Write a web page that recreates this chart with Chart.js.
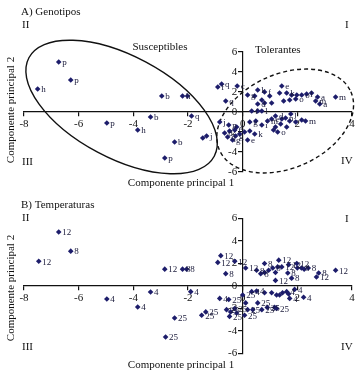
<!DOCTYPE html>
<html><head><meta charset="utf-8">
<script src="https://cdn.jsdelivr.net/npm/chart.js@4.4.0/dist/chart.umd.min.js"></script>
<style>
html,body{margin:0;padding:0;background:#fff;}
#wrap{position:relative;width:359px;height:372px;overflow:hidden;}
canvas{position:absolute;left:0;top:0;}
</style></head><body>
<div id="wrap">
<canvas id="cA" width="359" height="372"></canvas>
<canvas id="cB" width="359" height="372"></canvas>
</div>
<script>
// ---- data ----
const xTicks = [-8, -6, -4, -2, 0, 2, 4];
const yTicks = [-6, -4, -2, 0, 2, 4, 6];

// Panel A: genotypes
const genoX = [-6.73,-6.29,-7.50,-2.96,-2.20,-2.02,-0.91,-0.77,-0.20,-0.62,
  -4.97,-3.37,-3.84,-2.49,-2.85,-1.87,-1.46,-1.32,-0.84,-0.51,
  -0.22,-0.66,-0.48,-0.29,-0.55,-0.26,-0.11,-0.37,0.07,0.26,
  0.44,0.18,0.33,0.55,0.70,0.26,0.48,0.70,0.91,1.06,
  1.20,1.43,1.57,1.76,1.72,1.94,1.39,1.20,1.61,2.16,
  2.30,1.13,1.28,0.18,0.44,0.55,0.80,0.70,0.99,0.55,
  1.43,1.35,1.61,1.79,1.98,2.16,2.34,2.52,1.94,1.72,
  1.50,2.74,2.67,2.82,3.40,1.06,0.80];
const genoY = [5.0,3.2,2.3,1.6,1.6,1.6,2.5,2.8,2.6,1.1,
  -1.1,-0.5,-1.8,-3.0,-4.6,-0.4,-2.6,-2.4,-1.0,-1.3,
  -1.5,-2.1,-1.9,-1.8,-2.5,-2.4,-2.2,-2.8,-2.0,-1.9,
  -2.2,-2.8,0.1,0.1,0.1,-1.0,-0.9,-1.3,-0.9,-0.7,
  -0.4,-0.7,-0.6,-0.2,-0.9,-1.0,-1.2,-1.5,-1.5,-0.8,
  -0.9,-1.8,-2.0,1.7,1.6,2.2,2.0,1.2,1.6,0.8,
  2.6,1.9,1.9,1.7,1.7,1.7,1.8,1.9,1.3,1.2,
  1.1,1.5,1.1,0.8,1.5,0.9,0.9];
const genoLabels = ['p','p','h','b','h','','f','q','c','q',
  'p','b','h','b','p','q','','j','j','n',
  'c','d','','f','q','g','','g','','',
  'k','e','f','','l','g','','i','m','e',
  'd','','n','j','','','','','','',
  'm','','o','g','','k','f','','','d',
  'e','','k','','','o','l','','o','',
  '','a','m','a','m','',''];

// Panel B: temperatures
const tempX = [-6.73,-6.29,-7.46,-2.85,-2.20,-2.05,-0.80,-0.91,-0.29,-0.62,
  0.11,0.51,0.66,0.80,0.80,0.95,1.10,1.20,1.32,1.28,
  1.43,1.65,1.68,1.79,1.20,1.98,2.00,2.15,2.25,2.40,
  2.78,2.70,3.40,-4.97,-3.84,-3.37,-2.49,-2.82,-1.90,-0.84,
  -1.50,-1.35,-0.51,-0.59,-0.44,-0.29,-0.22,-0.48,0.00,0.11,
  0.18,0.37,0.07,0.33,0.51,0.55,0.80,1.06,1.24,1.35,
  1.46,1.61,1.68,1.90,1.72,2.23,1.17,1.24,0.90,0.70];
const tempY = [4.8,3.1,2.2,1.5,1.5,1.5,2.7,2.1,2.2,1.1,
  1.6,1.4,1.1,2.0,1.2,1.4,1.6,1.2,2.3,1.7,
  1.7,1.15,1.9,0.7,0.5,2.0,1.6,1.6,1.5,1.6,
  1.15,0.8,1.4,-1.16,-1.87,-0.53,-2.84,-4.53,-0.5,-1.1,
  -2.6,-2.3,-1.2,-2.1,-2.3,-2.0,-2.4,-2.7,-0.8,-1.5,
  -2.1,-2.1,-2.6,-0.5,-0.45,-1.5,-0.6,-0.6,-0.8,-0.8,
  -0.6,-0.5,-0.7,-0.3,-1.1,-1.0,-1.9,-2.0,-1.9,-2.1];
const tempLabels = ['12','8','12','12','8','8','12','12','12','8',
  '12','8','8','8','','','8','','12','',
  '12','8','12','8','12','12','','8','','8',
  '8','12','12','4','4','4','25','25','4','4',
  '25','25','25','25','','25','','25','25','',
  '25','','25','4','4','25','','','','',
  '','4','','4','4','4','','25','25','25'];

// ---- plugins ----
const serif = '"Liberation Serif", "DejaVu Serif", serif';

const pointLabels = {
  id: 'pointLabels',
  afterDatasetsDraw(chart) {
    const ctx = chart.ctx;
    const meta = chart.getDatasetMeta(0);
    const labs = chart.data.datasets[0].pointLabels || [];
    ctx.save();
    ctx.font = '9px ' + serif;
    ctx.fillStyle = '#1a1a3a';
    ctx.textAlign = 'left';
    ctx.textBaseline = 'middle';
    meta.data.forEach((el, i) => {
      if (labs[i]) ctx.fillText(labs[i], el.x + 3.5, el.y + 1);
    });
    ctx.restore();
  }
};

const decor = {
  id: 'decor',
  beforeDatasetsDraw(chart, args, opts) {
    const ctx = chart.ctx;
    const xs = chart.scales.x, ys = chart.scales.y;
    const ppu = xs.getPixelForValue(1) - xs.getPixelForValue(0);
    (opts.ellipses || []).forEach(e => {
      ctx.save();
      ctx.beginPath();
      ctx.ellipse(xs.getPixelForValue(e.cx), ys.getPixelForValue(e.cy),
        e.a * ppu, e.b * ppu, e.rot * Math.PI / 180, 0, 2 * Math.PI);
      ctx.lineWidth = 1.4;
      ctx.strokeStyle = '#111';
      ctx.setLineDash(e.dash || []);
      ctx.stroke();
      ctx.restore();
    });
  },
  afterDraw(chart, args, opts) {
    const ctx = chart.ctx;
    (opts.texts || []).forEach(t => {
      ctx.save();
      ctx.font = (t.size || 11) + 'px ' + serif;
      ctx.fillStyle = '#111';
      ctx.textBaseline = 'middle';
      ctx.textAlign = t.align || 'left';
      ctx.translate(t.x, t.y);
      if (t.rot) ctx.rotate(t.rot);
      ctx.fillText(t.text, 0, 0);
      ctx.restore();
    });
  }
};

function makeChart(id, xs, ys, labs, pad, texts, ellipses) {
  const pts = xs.map((x, i) => ({x: x, y: ys[i]}));
  return new Chart(document.getElementById(id), {
    type: 'scatter',
    data: {datasets: [{
      data: pts,
      pointLabels: labs,
      pointStyle: 'rectRot',
      pointRadius: 2.8,
      pointHoverRadius: 2.8,
      backgroundColor: '#1d1d6b',
      borderColor: '#1d1d6b',
      borderWidth: 0
    }]},
    options: {
      responsive: false,
      animation: false,
      events: [],
      layout: {padding: pad},
      plugins: {
        legend: {display: false},
        tooltip: {enabled: false},
        decor: {texts: texts, ellipses: ellipses}
      },
      scales: {
        x: {
          type: 'linear', min: -8, max: 4,
          position: {y: 0},
          afterBuildTicks: s => { s.ticks = xTicks.map(v => ({value: v})); },
          grid: {drawOnChartArea: false, drawTicks: true, tickLength: 4, color: '#111', lineWidth: 1.2},
          border: {display: true, color: '#111', width: 1.2},
          ticks: {color: '#111', padding: 2, font: {family: serif, size: 11}, maxRotation: 0,
            callback: v => String(v)}
        },
        y: {
          type: 'linear', min: -6, max: 6,
          position: {x: 0},
          afterBuildTicks: s => { s.ticks = yTicks.map(v => ({value: v})); },
          grid: {drawOnChartArea: false, drawTicks: true, tickLength: 4, color: '#111', lineWidth: 1.2},
          border: {display: true, color: '#111', width: 1.2},
          ticks: {color: '#111', font: {family: serif, size: 11},
            callback: v => String(v) + '  '}
        }
      }
    },
    plugins: [decor, pointLabels]
  });
}

makeChart('cA', genoX, genoY, genoLabels,
  {left: 24, right: 7, top: 52, bottom: 200},
  [
    {text: 'A) Genotipos', x: 21, y: 12},
    {text: 'II', x: 22, y: 25},
    {text: 'I', x: 345, y: 25},
    {text: 'III', x: 22, y: 162},
    {text: 'IV', x: 341, y: 161},
    {text: 'Susceptibles', x: 160, y: 47, align: 'center'},
    {text: 'Tolerantes', x: 255, y: 50},
    {text: 'Componente principal 1', x: 181, y: 183, align: 'center'},
    {text: 'Componente principal 2', x: 11, y: 110, align: 'center', rot: -Math.PI / 2}
  ],
  [
    {cx: -4.43, cy: 0.5, a: 3.84, b: 1.87, rot: 28},
    {cx: 1.555, cy: -0.9, a: 2.63, b: 1.72, rot: -24, dash: [4, 3]}
  ]);

makeChart('cB', tempX, tempY, tempLabels,
  {left: 24, right: 7, top: 218.5, bottom: 18.5},
  [
    {text: 'B) Temperaturas', x: 21, y: 205},
    {text: 'II', x: 22, y: 218},
    {text: 'I', x: 345, y: 219},
    {text: 'III', x: 22, y: 347},
    {text: 'IV', x: 341, y: 347},
    {text: 'Componente principal 1', x: 181, y: 365, align: 'center'},
    {text: 'Componente principal 2', x: 11, y: 288, align: 'center', rot: -Math.PI / 2}
  ],
  []);
</script>
</body></html>
